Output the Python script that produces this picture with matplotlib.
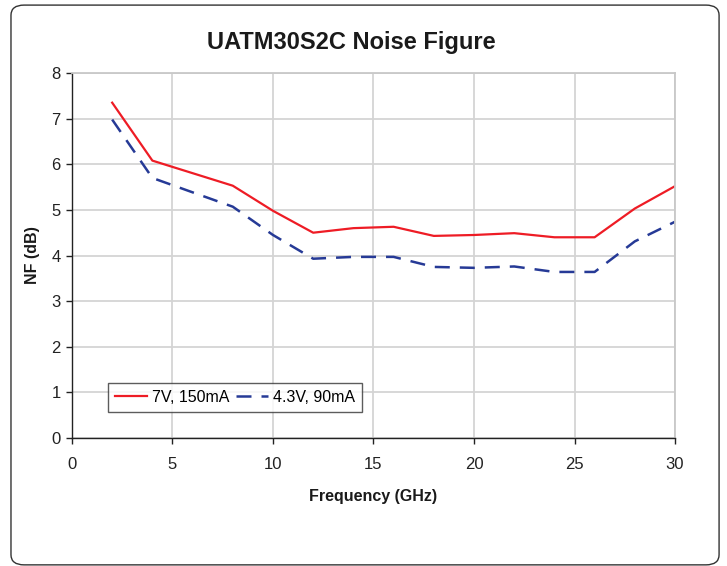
import matplotlib
matplotlib.use("Agg")
import matplotlib.pyplot as plt
from matplotlib.patches import FancyBboxPatch

freq = [2, 4, 8, 10, 12, 14, 16, 18, 20, 22, 24, 26, 28, 30]
nf_7v = [7.35, 6.08, 5.53, 4.98, 4.50, 4.60, 4.63, 4.43, 4.45, 4.49, 4.40, 4.40, 5.03, 5.52]
nf_43v = [6.98, 5.70, 5.07, 4.45, 3.93, 3.97, 3.97, 3.75, 3.73, 3.76, 3.64, 3.64, 4.31, 4.74]
labels = ["7V, 150mA", "4.3V, 90mA"]
title = "UATM30S2C Noise Figure"
xlabel = "Frequency (GHz)"
ylabel = "NF (dB)"

plt.rcParams['font.family'] = ['Liberation Sans', 'DejaVu Sans']

fig = plt.figure(figsize=(7.27, 5.66), dpi=100)
border = FancyBboxPatch((0.0151, 0.002), 0.974, 0.989, boxstyle="round,pad=0,rounding_size=0.018",
                        transform=fig.transFigure, facecolor='none', edgecolor='#333333',
                        linewidth=1.0, zorder=5)
fig.patches.append(border)

ax = fig.add_axes([0.099, 0.2261, 0.8295, 0.6449])
ax.plot(freq, nf_7v, color='#ee1c25', linewidth=1.6, label=labels[0])
ax.plot(freq, nf_43v, color='#263a96', linewidth=1.8, dashes=(6, 4), label=labels[1])

ax.set_xlim(0, 30)
ax.set_ylim(0, 8)
ax.set_xticks(range(0, 31, 5))
ax.set_yticks(range(0, 9))
ax.grid(True, color='#d4d4d4', linewidth=1.3)
ax.set_axisbelow(True)
for s in ['top', 'right']:
    ax.spines[s].set_color('#c8c8c8')
    ax.spines[s].set_linewidth(1.3)
for s in ['left', 'bottom']:
    ax.spines[s].set_color('#222222')
    ax.spines[s].set_linewidth(1.0)
ax.tick_params(direction='out', length=4, width=1, color='#222222', labelsize=12, labelcolor='#222222')
ax.tick_params(axis='x', pad=10)
ax.tick_params(axis='y', pad=4)

fig.text(351 / 727, 1 - 42 / 566, title, fontsize=17, fontweight='bold', color='#1a1a1a',
         ha='center', va='center')
ax.set_xlabel(xlabel, fontsize=11.5, fontweight='bold', labelpad=12, color='#1a1a1a')
ax.set_ylabel(ylabel, fontsize=11.5, fontweight='bold', labelpad=8, color='#1a1a1a')

leg = ax.legend(loc='lower left', bbox_to_anchor=(0.06, 0.071), ncol=2, fontsize=11.5,
                frameon=True, fancybox=False, edgecolor='#333333', handlelength=2.0,
                handletextpad=0.3, columnspacing=0.4, borderpad=0.45, borderaxespad=0)
leg.get_frame().set_linewidth(1.0)

fig.savefig("out.png", dpi=100)
